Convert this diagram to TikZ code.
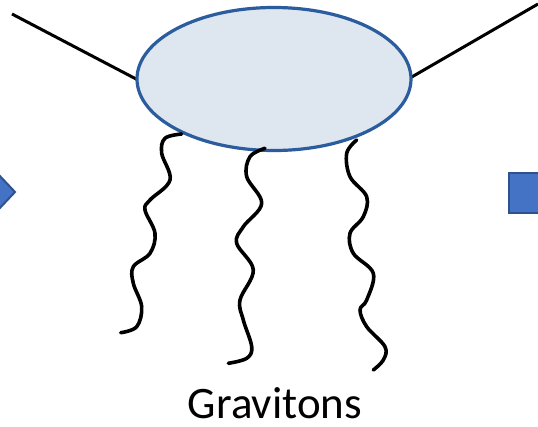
\documentclass[tikz,border=0pt]{standalone}
\usepackage{fontspec}
\setmainfont{Carlito}
\usetikzlibrary{shapes.geometric}
\definecolor{blobfill}{HTML}{DEE6F0}
\definecolor{blobdraw}{HTML}{2A5C9E}
\definecolor{arrfill}{HTML}{4472C4}
\definecolor{arrdraw}{HTML}{2F528F}
\begin{document}
\begin{tikzpicture}[x=1pt,y=-1pt,
  leg/.style={draw=black,line width=3pt},
  wavy/.style={draw=black,line width=3.6pt,line cap=round,line join=round},
  blob/.style={ellipse,draw=blobdraw,fill=blobfill,line width=3.2pt},
  bluepiece/.style={fill=arrfill,draw=arrdraw,line width=2pt}]
\useasboundingbox (0,0) rectangle (538,426);
\fill[white] (0,0) rectangle (538,426);
% blue pieces at the edges
\path[bluepiece] (-2,174) -- (15,192) -- (-2,210) -- cycle;
\path[bluepiece] (509,173) rectangle (540,213);
% external legs
\coordinate (la) at (12,14);
\coordinate (ra) at (538,4);
\draw[leg] (la) -- (138,80);
\draw[leg] (ra) -- (410,78);
% blob
\node[blob,minimum width=274pt,minimum height=143pt,inner sep=0pt] (b) at (274,79) {};
% gravitons
\draw[wavy] plot[smooth,tension=0.6] coordinates {(181.7,134) (165,138.3) (161.7,153.3) (170,180) (150,200) (145,210) (155,233.3) (150,253.3) (133.3,266.7) (133.3,283.3) (141.7,306.7) (136.7,326.7) (120.7,332.7)};
\draw[wavy] plot[smooth,tension=0.6] coordinates {(265,148.3) (250,156.7) (246.7,176.7) (261.7,203.3) (243.3,226.7) (236.7,243.3) (253.3,270) (240,300) (243.3,320) (251.7,346.7) (246.7,358.3) (228.3,363.3)};
\draw[wavy] plot[smooth,tension=0.6] coordinates {(356.7,140) (346.7,153.3) (350,176.7) (366.7,196.7) (363.3,216.7) (350,233.3) (353.3,253.3) (373.3,273.3) (366.7,300) (360,310) (366.7,326.7) (385,346.7) (383.3,360) (373.3,370)};
% label
\node[anchor=base,font=\fontsize{45}{48}\selectfont,inner sep=0pt] (lbl) at (275,418) {Gravitons};
\end{tikzpicture}
\end{document}
